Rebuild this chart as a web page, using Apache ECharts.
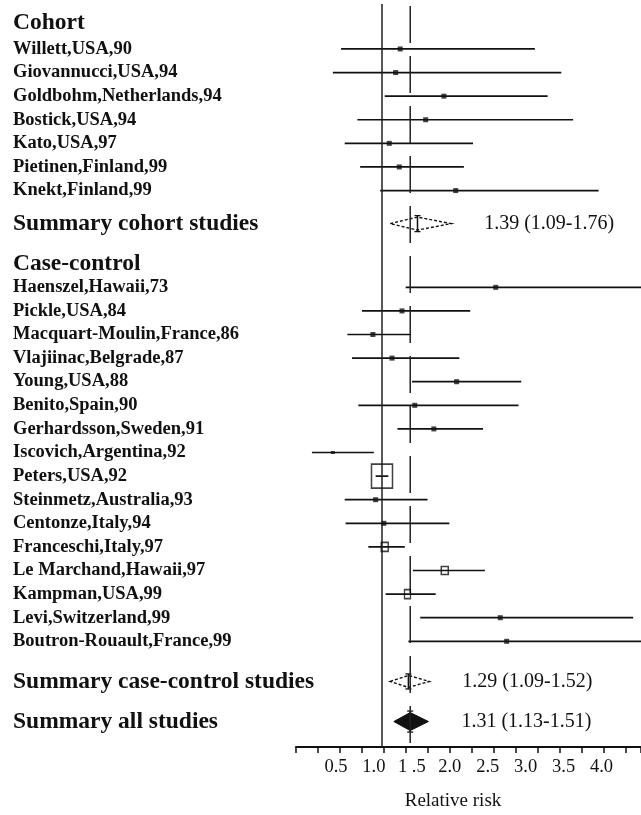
<!DOCTYPE html>
<html><head><meta charset="utf-8">
<script src="https://cdn.jsdelivr.net/npm/echarts@6/dist/echarts.min.js"></script>
<style>html,body{margin:0;padding:0;background:#fff}#c{width:641px;height:815px}</style>
</head><body><div id="c"></div>
<script>
// ---------------- data ----------------
const groupHeaders = ['Cohort', 'Case-control'];

const cohortStudies = ['Willett,USA,90','Giovannucci,USA,94','Goldbohm,Netherlands,94','Bostick,USA,94','Kato,USA,97','Pietinen,Finland,99','Knekt,Finland,99'];
const cohortRR    = [1.20, 1.15, 1.68, 1.48, 1.08, 1.19, 1.81];
const cohortLower = [0.55, 0.46, 1.03, 0.73, 0.59, 0.76, 0.98];
const cohortUpper = [2.68, 2.97, 2.82, 3.10, 2.00, 1.90, 3.38];

const ccStudies = ['Haenszel,Hawaii,73','Pickle,USA,84','Macquart-Moulin,France,86','Vlajiinac,Belgrade,87','Young,USA,88','Benito,Spain,90','Gerhardsson,Sweden,91','Iscovich,Argentina,92','Peters,USA,92','Steinmetz,Australia,93','Centonze,Italy,94','Franceschi,Italy,97','Le Marchand,Hawaii,97','Kampman,USA,99','Levi,Switzerland,99','Boutron-Rouault,France,99'];
const ccRR    = [2.25, 1.22, 0.90, 1.11, 1.82, 1.36, 1.57, 0.46, 1.00, 0.93, 1.02, 1.03, 1.69, 1.28, 2.30, 2.37];
const ccLower = [1.26, 0.78, 0.62, 0.67, 1.33, 0.74, 1.17, 0.23, 0.93, 0.59, 0.60, 0.85, 1.34, 1.04, 1.42, 1.29];
const ccUpper = [4.20, 1.97, 1.32, 1.85, 2.53, 2.50, 2.11, 0.91, 1.07, 1.50, 1.74, 1.25, 2.13, 1.59, 3.76, 4.10];

const summaryNames = ['Summary cohort studies','Summary case-control studies','Summary all studies'];
const summaryRR    = [1.39, 1.29, 1.31];
const summaryLower = [1.09, 1.09, 1.13];
const summaryUpper = [1.76, 1.52, 1.51];

const nullValue = 1.0;
const tickValues = [0.5, 1.0, 1.5, 2.0, 2.5, 3.0, 3.5, 4.0];
const tickLabels = ['0.5', '1.0', '1 .5', '2.0', '2.5', '3.0', '3.5', '4.0'];
const axisTitle = 'Relative risk';

// ---------------- layout (row slots) ----------------
const rows = [];
rows.push({ kind: 'header', text: groupHeaders[0], pos: 0 });
cohortStudies.forEach((n, i) => rows.push({ kind: 'study', text: n, pos: 1.1 + i, rr: cohortRR[i], lo: cohortLower[i], hi: cohortUpper[i] }));
rows.push({ kind: 'summary', text: summaryNames[0], pos: 8.5, idx: 0 });
rows.push({ kind: 'header', text: groupHeaders[1], pos: 10.2 });
ccStudies.forEach((n, i) => rows.push({ kind: 'study', text: n, pos: 11.2 + i, rr: ccRR[i], lo: ccLower[i], hi: ccUpper[i] }));
rows.push({ kind: 'summary', text: summaryNames[1], pos: 27.9, idx: 1 });
rows.push({ kind: 'summary', text: summaryNames[2], pos: 29.6, idx: 2 });

const Y_MIN = -0.805, Y_MAX = 30.678;
const FONT = 'Liberation Serif';
const INK = '#111';

// marker styles (style only)
const markerStyle = {
  'Iscovich,Argentina,92': { size: [4, 3], hollow: false },
  'Peters,USA,92': { size: [21, 24], hollow: true },
  'Franceschi,Italy,97': { size: [7, 9], hollow: true },
  'Le Marchand,Hawaii,97': { size: [7, 8], hollow: true },
  'Kampman,USA,99': { size: [6, 9], hollow: true }
};
const diamondHalf = [6.5, 6, 9];
const diamondFilled = [false, false, true];

const studyRows = rows.filter(r => r.kind === 'study');
const summaryRows = rows.filter(r => r.kind === 'summary');

const ciData = studyRows.map(r => [r.lo, r.hi, r.pos]);
const pointData = studyRows.map(r => {
  const s = markerStyle[r.text];
  if (!s) return { value: [r.rr, r.pos], symbolSize: 5, itemStyle: { color: INK } };
  return {
    value: [r.rr, r.pos], symbolSize: s.size,
    itemStyle: s.hollow ? { color: 'rgba(255,255,255,0)', borderColor: INK, borderWidth: 1.6 } : { color: INK }
  };
});
const summaryData = summaryRows.map(r => [summaryRR[r.idx], summaryLower[r.idx], summaryUpper[r.idx], r.pos, r.idx]);

const chart = echarts.init(document.getElementById('c'), null, { renderer: 'canvas' });
chart.setOption({
  animation: false,
  backgroundColor: '#fff',
  grid: { left: 296, right: 0, top: 4, bottom: 68, containLabel: false, outerBoundsMode: 'none' },
  xAxis: [
    { // data scale
      type: 'value', gridIndex: 0, position: 'bottom', min: 0.0549, max: 3.8462, show: false
    },
    { // printed labels
      type: 'value', gridIndex: 0, position: 'bottom', min: -0.0273, max: 4.5207,
      axisLine: { show: false }, axisTick: { show: false }, splitLine: { show: false },
      axisLabel: {
        customValues: tickValues, margin: 11, fontSize: 18.5, fontFamily: FONT, color: INK,
        formatter: v => { const k = tickValues.findIndex(t => Math.abs(t - v) < 1e-6); return k >= 0 ? tickLabels[k] : ''; }
      },
      name: axisTitle, nameLocation: 'middle', nameGap: 45,
      nameTextStyle: { fontSize: 19, fontFamily: FONT, color: INK, padding: [0, 31, 0, 0] }
    },
    { // tick marks + axis line
      type: 'value', gridIndex: 0, position: 'bottom', min: 0, max: 15.69, interval: 1,
      axisLine: { show: true, lineStyle: { color: INK, width: 2 } },
      axisTick: { show: true, inside: false, length: 6, lineStyle: { color: INK, width: 1.5 } },
      axisLabel: { show: false }, splitLine: { show: false }
    }
  ],
  yAxis: [{
    type: 'value', gridIndex: 0, position: 'left', inverse: true, min: Y_MIN, max: Y_MAX,
    axisLine: { show: false }, axisTick: { show: false }, splitLine: { show: false },
    axisLabel: {
      customValues: rows.map(r => r.pos), align: 'left', margin: 283, color: INK,
      formatter: v => {
        let best = rows[0], d = Infinity;
        rows.forEach(r => { const dd = Math.abs(r.pos - v); if (dd < d) { d = dd; best = r; } });
        return '{' + best.kind + '|' + best.text + '}';
      },
      rich: {
        header: { fontSize: 23.5, fontWeight: 'bold', fontFamily: FONT, color: INK },
        study: { fontSize: 18.5, fontWeight: 'bold', fontFamily: FONT, color: INK },
        summary: { fontSize: 23.5, fontWeight: 'bold', fontFamily: FONT, color: INK }
      }
    }
  }],
  series: [
    { // null line
      type: 'line', xAxisIndex: 0, yAxisIndex: 0, symbol: 'none', silent: true,
      data: [[nullValue, Y_MIN], [nullValue, Y_MAX]],
      lineStyle: { color: '#222', width: 1.5 }
    },
    { // overall summary dashed line
      type: 'line', xAxisIndex: 0, yAxisIndex: 0, symbol: 'none', silent: true,
      data: [[summaryRR[2], Y_MIN], [summaryRR[2], Y_MAX]],
      lineStyle: { color: '#222', width: 1.5, type: [37, 13], dashOffset: 48 }
    },
    { // confidence intervals
      type: 'custom', xAxisIndex: 0, yAxisIndex: 0, silent: true,
      data: ciData,
      encode: { x: [0, 1], y: 2 },
      renderItem: (params, api) => {
        const a = api.coord([api.value(0), api.value(2)]);
        const b = api.coord([api.value(1), api.value(2)]);
        const cs = params.coordSys;
        const x1 = Math.max(a[0], cs.x), x2 = Math.min(b[0], cs.x + cs.width);
        return { type: 'line', shape: { x1: x1, y1: a[1], x2: x2, y2: b[1] }, style: { stroke: INK, lineWidth: 1.7 } };
      }
    },
    { // point estimates
      type: 'scatter', xAxisIndex: 0, yAxisIndex: 0, symbol: 'rect', silent: true,
      data: pointData, z: 5
    },
    { // summary diamonds
      type: 'custom', xAxisIndex: 0, yAxisIndex: 0, silent: true,
      data: summaryData,
      encode: { x: [0, 1, 2], y: 3 },
      renderItem: (params, api) => {
        const idx = api.value(4);
        const c = api.coord([api.value(0), api.value(3)]);
        const l = api.coord([api.value(1), api.value(3)]);
        const r = api.coord([api.value(2), api.value(3)]);
        const h = diamondHalf[idx];
        const filled = diamondFilled[idx];
        const lo = api.value(1), hi = api.value(2), est = api.value(0);
        const label = est.toFixed(2) + ' (' + lo.toFixed(2) + '-' + hi.toFixed(2) + ')';
        return {
          type: 'group',
          children: [
            { type: 'polygon', shape: { points: [[l[0], l[1]], [c[0], c[1] - h], [r[0], r[1]], [c[0], c[1] + h]] },
              style: filled ? { fill: INK, stroke: INK, lineWidth: 1 } : { fill: '#fff', stroke: INK, lineWidth: 1.4, lineDash: [3, 2] } },
            { type: 'line', shape: { x1: c[0], y1: c[1] - h - 1.5, x2: c[0], y2: c[1] + h + 1.5 }, style: { stroke: INK, lineWidth: 1.5 } },
            { type: 'line', shape: { x1: c[0] - 3, y1: c[1] - h - 1.5, x2: c[0] + 3, y2: c[1] - h - 1.5 }, style: { stroke: INK, lineWidth: 1.3 } },
            { type: 'line', shape: { x1: c[0] - 3, y1: c[1] + h + 1.5, x2: c[0] + 3, y2: c[1] + h + 1.5 }, style: { stroke: INK, lineWidth: 1.3 } },
            { type: 'text', x: r[0] + 33, y: r[1],
              style: { text: label, fontSize: 20, fontFamily: FONT, fill: INK, align: 'left', verticalAlign: 'middle' } }
          ]
        };
      }
    }
  ]
});
</script>
</body></html>
